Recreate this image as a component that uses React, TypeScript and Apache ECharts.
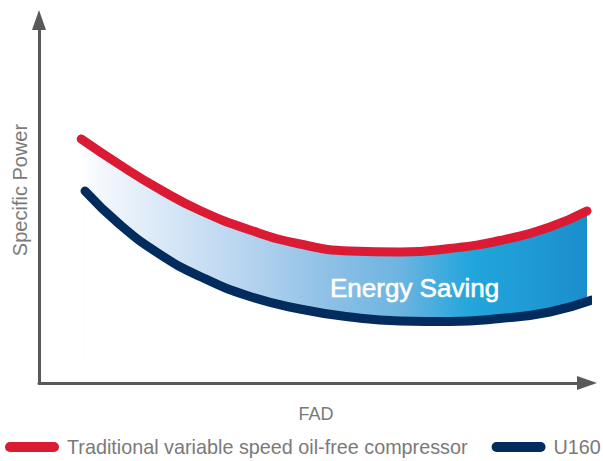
import React, { useEffect, useRef } from "react";
import * as echarts from "echarts";

// Traditional variable speed oil-free compressor (red curve)
const redX = [7.7, 14.8, 22.1, 29.4, 38.5, 47.6, 56.8, 65.9, 75.0, 84.1, 93.2, 100.0];
const redY = [67.22, 60.06, 53.31, 47.52, 42.15, 38.29, 36.36, 36.09, 37.05, 39.26, 42.98, 47.38];
// U160 (navy curve)
const navyX = [8.4, 14.8, 22.1, 29.4, 38.5, 47.6, 56.8, 65.9, 75.0, 84.1, 93.2, 100.9];
const navyY = [52.89, 43.58, 35.4, 29.34, 23.83, 20.39, 18.18, 17.08, 16.94, 17.77, 19.56, 22.87];

const seriesNames = ["Traditional variable speed oil-free compressor", "U160"];
const axisNames = { x: "FAD", y: "Specific Power" };
const bandLabel = "Energy Saving";

const RED = "#db1a34";
const NAVY = "#022b5e";
const AXIS = "#58595b";
const TEXT = "#7a7a7a";
const pill = "path://M5,0 L49,0 A5,5 0 0 1 49,10 L5,10 A5,5 0 0 1 5,0 Z";

export default function App() {
  const ref = useRef<HTMLDivElement>(null);
  useEffect(() => {
    if (!ref.current) return;
    const chart = echarts.init(ref.current, null, { renderer: "svg" });
    const pairs = (xs: number[], ys: number[]) => xs.map((x, i) => [x, ys[i]]);
    const axisCommon = {
      type: "value" as const,
      min: 0,
      max: 100,
      axisLine: {
        show: true,
        symbol: ["none", "triangle"],
        symbolSize: [14, 20],
        symbolOffset: [0, 0],
        lineStyle: { color: AXIS, width: 3 },
      },
      axisTick: { show: false },
      axisLabel: { show: false },
      splitLine: { show: false },
      nameLocation: "middle" as const,
    };
    chart.setOption({
      animation: false,
      grid: { left: 39, right: 16, top: 20, bottom: 78, outerBoundsMode: "none", containLabel: false },
      xAxis: {
        ...axisCommon,
        name: axisNames.x,
        nameGap: 22,
        nameTextStyle: { color: TEXT, fontSize: 18, fontFamily: "Liberation Sans", padding: [0, 0, 0, 6] },
      },
      yAxis: {
        ...axisCommon,
        name: axisNames.y,
        nameGap: 9,
        nameTextStyle: { color: TEXT, fontSize: 20, fontFamily: "Liberation Sans", padding: [0, 0, 0, 23] },
      },
      legend: {
        left: 5,
        top: 437,
        padding: 0,
        itemWidth: 54,
        itemHeight: 10,
        itemGap: 24,
        icon: pill,
        textStyle: { color: TEXT, fontSize: 19.8, fontFamily: "Liberation Sans", padding: [0, 0, 0, 3] },
        data: seriesNames,
      },
      graphic: [
        {
          type: "text",
          x: 330,
          y: 288,
          z: 100,
          style: {
            text: bandLabel,
            fill: "#ffffff",
            stroke: "#ffffff",
            lineWidth: 0.6,
            fontSize: 26,
            fontFamily: "Liberation Sans",
            verticalAlign: "middle",
            align: "left",
          },
        },
      ],
      series: [
        {
          name: seriesNames[0],
          type: "line",
          data: pairs(redX, redY),
          smooth: 0.5,
          symbol: "none",
          clip: false,
          itemStyle: { color: RED },
          lineStyle: { color: RED, width: 9, cap: "round" },
          areaStyle: {
            origin: 5,
            opacity: 1,
            color: new echarts.graphic.LinearGradient(0, 0, 1, 0, [
              { offset: 0, color: "#ffffff" },
              { offset: 0.05, color: "#f1f6fc" },
              { offset: 0.34, color: "#b3d2ee" },
              { offset: 0.49, color: "#8ec0e6" },
              { offset: 0.63, color: "#6db4e0" },
              { offset: 0.77, color: "#22a6dc" },
              { offset: 1, color: "#1b8ecc" },
            ]),
          },
          z: 2,
        },
        {
          name: seriesNames[1],
          type: "line",
          data: pairs(navyX, navyY),
          smooth: 0.5,
          symbol: "none",
          clip: false,
          itemStyle: { color: NAVY },
          lineStyle: { color: NAVY, width: 9, cap: "round" },
          areaStyle: { origin: 2, opacity: 1, color: "#ffffff" },
          z: 3,
        },
      ],
    });
    return () => chart.dispose();
  }, []);
  return <div ref={ref} style={{ width: 603, height: 461, position: "absolute", left: 0, top: 0 }} />;
}
